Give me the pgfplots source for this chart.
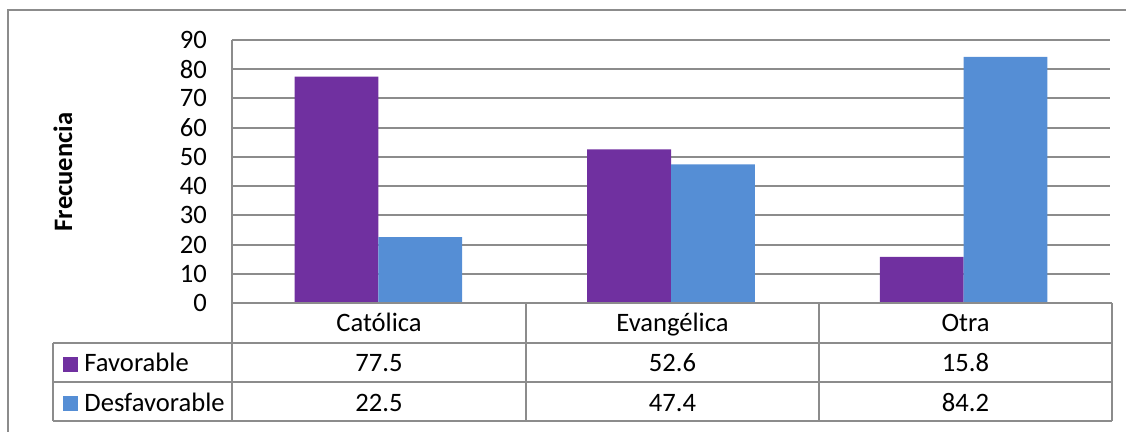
\documentclass[border=0pt]{standalone}
\usepackage{fontspec}
\setmainfont{Carlito}
\usepackage{pgfplots}
\pgfplotsset{compat=1.18}
\definecolor{fav}{HTML}{7030A0}
\definecolor{des}{HTML}{558ED5}
\definecolor{gridc}{HTML}{8C8C8C}
\begin{document}
\fontsize{13.3}{16}\selectfont
\begin{tikzpicture}
\useasboundingbox (0,0) rectangle (563pt,216pt);
\begin{axis}[
  at={(116pt,64.5pt)}, anchor=south west,
  scale only axis, width=439pt, height=131.5pt,
  ymin=0, ymax=90, ytick={0,10,...,90},
  xmin=-0.5, xmax=2.5, xtick=\empty,
  ymajorgrids, grid style={gridc, line width=1pt},
  axis lines*=left, axis line style={gridc, line width=1pt},
  major tick length=0pt,
  ybar=0pt, bar width=41.9pt,
  /pgf/number format/assume math mode=true,
  yticklabel style={xshift=-8pt, font=\fontsize{13.3}{16}\selectfont},
  clip=false,
]
\addplot[fill=fav, draw=none] coordinates {(0,77.5) (1,52.6) (2,15.8)};
\addplot[fill=des, draw=none] coordinates {(0,22.5) (1,47.4) (2,84.2)};
\end{axis}
\begin{scope}[x=0.5pt, y=-0.5pt, yshift=216pt]
  \draw[gridc, line width=1pt] (8,432) -- (8,10) -- (1126,10);
  \draw[gridc, line width=1pt] (232,303) -- (232,421);
  \draw[gridc, line width=1pt] (526,303) -- (526,421);
  \draw[gridc, line width=1pt] (819,303) -- (819,421);
  \draw[gridc, line width=1pt] (1112,303) -- (1112,421);
  \draw[gridc, line width=1pt] (53,343) -- (53,421);
  \draw[gridc, line width=1pt] (232,303) -- (1112,303);
  \draw[gridc, line width=1pt] (53,343) -- (1112,343);
  \draw[gridc, line width=1pt] (53,382) -- (1112,382);
  \draw[gridc, line width=1pt] (53,421) -- (1112,421);
  \node[anchor=base, inner sep=0] at (379,332) {Católica};
  \node[anchor=base, inner sep=0] at (672.5,332) {Evangélica};
  \node[anchor=base, inner sep=0] at (965.5,332) {Otra};
  \node[anchor=base, inner sep=0] at (379,372) {77.5};
  \node[anchor=base, inner sep=0] at (672.5,372) {52.6};
  \node[anchor=base, inner sep=0] at (965.5,372) {15.8};
  \node[anchor=base, inner sep=0] at (379,411.5) {22.5};
  \node[anchor=base, inner sep=0] at (672.5,411.5) {47.4};
  \node[anchor=base, inner sep=0] at (965.5,411.5) {84.2};
  \fill[fav] (63,357) rectangle (78,372);
  \fill[des] (63,396) rectangle (78,411);
  \node[anchor=base west, inner sep=0] at (84,372) {Favorable};
  \node[anchor=base west, inner sep=0] at (84,411.5) {Desfavorable};
  \node[rotate=90, inner sep=0, font=\bfseries] at (63,172) {Frecuencia};
\end{scope}
\end{tikzpicture}
\end{document}
